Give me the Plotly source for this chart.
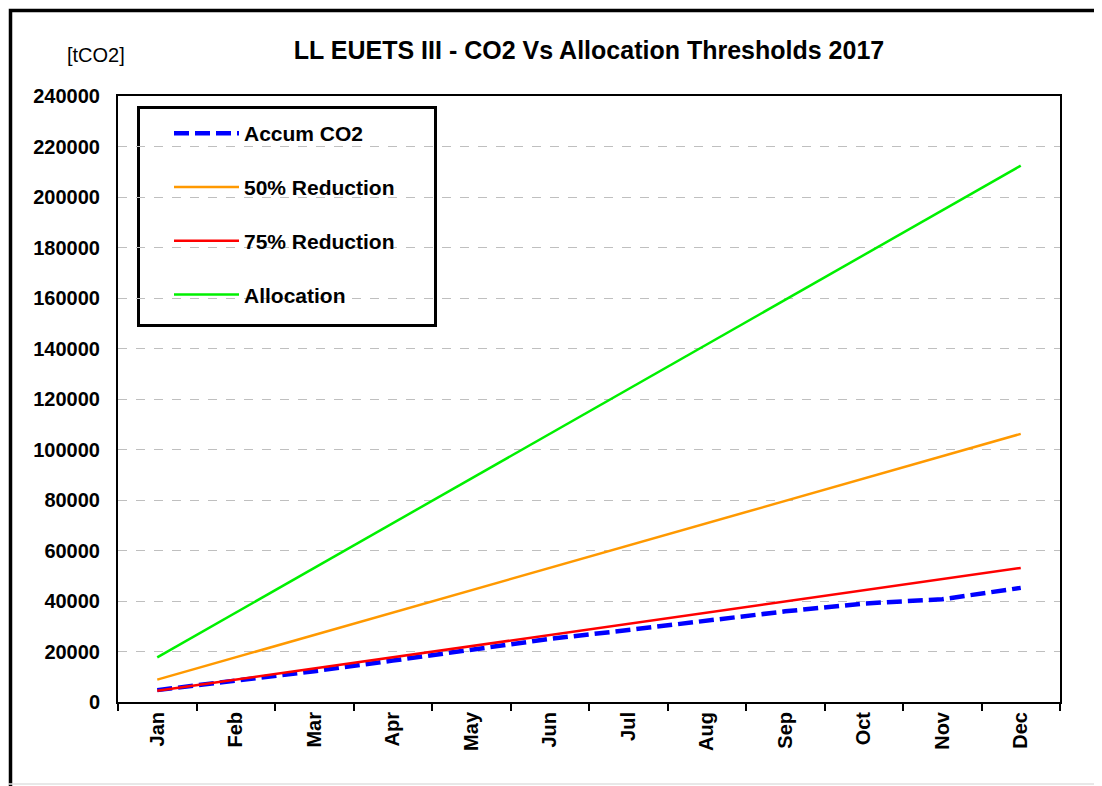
import plotly.graph_objects as go

months = ["Jan", "Feb", "Mar", "Apr", "May", "Jun", "Jul", "Aug", "Sep", "Oct", "Nov", "Dec"]
accum_co2 = [4700, 8300, 12200, 16400, 20600, 25000, 28500, 32300, 35900, 39000, 40700, 45200]
reduction_50 = [8850, 17700, 26550, 35400, 44250, 53100, 61950, 70800, 79650, 88500, 97350, 106200]
reduction_75 = [4425, 8850, 13275, 17700, 22125, 26550, 30975, 35400, 39825, 44250, 48675, 53100]
allocation = [17700, 35400, 53100, 70800, 88500, 106200, 123900, 141600, 159300, 177000, 194700, 212400]
y_ticks = list(range(0, 240001, 20000))

OFF = 8  # default body margin of the html page
W, H = 1102 - OFF, 786 - OFF
L, R, T, B = 118, 1060, 96, 702  # plot area in page pixels

def px(x):
    return (x - L) / (R - L)

def py(y):
    return (B - y) / (B - T)

FONT = "Liberation Sans, Arial, sans-serif"

fig = go.Figure()
series = [
    ("Accum CO2", accum_co2, "#0000FF", 4.5, "15px,6px"),
    ("50% Reduction", reduction_50, "#FF9900", 2.5, "solid"),
    ("75% Reduction", reduction_75, "#FF0000", 2.5, "solid"),
    ("Allocation", allocation, "#00F000", 2.5, "solid"),
]
for name, vals, color, w, dash in series:
    fig.add_trace(go.Scatter(
        x=months, y=vals, mode="lines", name=name, legendgroup=name,
        line=dict(color=color, width=w, dash=dash),
    ))

fig.update_layout(
    width=W, height=H,
    margin=dict(l=L - OFF, r=W + OFF - R, t=T - OFF, b=H + OFF - B, autoexpand=False),
    paper_bgcolor="white", plot_bgcolor="white",
    font=dict(family=FONT, color="black"),
    title=dict(
        text="<b>LL EUETS III - CO2 Vs Allocation Thresholds 2017</b>",
        x=px(589), xref="paper", xanchor="center",
        y=1 - (50 - OFF) / H, yanchor="middle",
        font=dict(size=25, family=FONT, color="black"),
    ),
    showlegend=True,
    legend=dict(
        x=px(169), y=py(113), xanchor="left", yanchor="top",
        bgcolor="rgba(0,0,0,0)", borderwidth=0,
        font=dict(size=21, family=FONT, color="black", weight="bold"),
        tracegroupgap=23.5, traceorder="grouped",
        itemwidth=65,
    ),
    xaxis=dict(
        type="category", tickson="boundaries", ticks="outside", ticklen=7,
        tickcolor="black", tickwidth=2, tickangle=-90,
        tickfont=dict(size=20, family=FONT, weight="bold"),
        showline=True, linecolor="black", linewidth=2, mirror=True,
        showgrid=False, range=[-0.5, 11.5],
    ),
    yaxis=dict(
        range=[0, 240000], tickvals=y_ticks, ticktext=[str(v) for v in y_ticks],
        ticks="", ticklabelstandoff=12,
        tickfont=dict(size=20, family=FONT, weight="bold"),
        showline=True, linecolor="black", linewidth=2, mirror=True,
        showgrid=True, gridcolor="#BFBFBF", griddash="dash", gridwidth=1,
        zeroline=False,
    ),
    annotations=[dict(
        text="[tCO2]", xref="paper", yref="paper", x=px(96), y=py(55),
        xanchor="center", yanchor="middle", showarrow=False,
        font=dict(size=20, family=FONT, color="black"),
    )],
    shapes=[
        dict(type="rect", xref="paper", yref="paper", layer="below",
             x0=px(138.5), y0=py(325.5), x1=px(435.5), y1=py(107.5),
             fillcolor="white", line=dict(color="black", width=3)),
        dict(type="rect", xref="paper", yref="paper", layer="above",
             x0=px(7), y0=py(900), x1=px(1200), y1=py(7),
             line=dict(color="#F2E64A", width=1.5)),
        dict(type="rect", xref="paper", yref="paper", layer="above",
             x0=px(10.5), y0=py(900), x1=px(1200), y1=py(10.5),
             line=dict(color="black", width=3.5)),
        dict(type="line", xref="paper", yref="paper", layer="above",
             x0=px(0), y0=py(784), x1=px(1102), y1=py(784),
             line=dict(color="#E0E0E0", width=1.5)),
    ],
)

fig.write_html("out.html")
